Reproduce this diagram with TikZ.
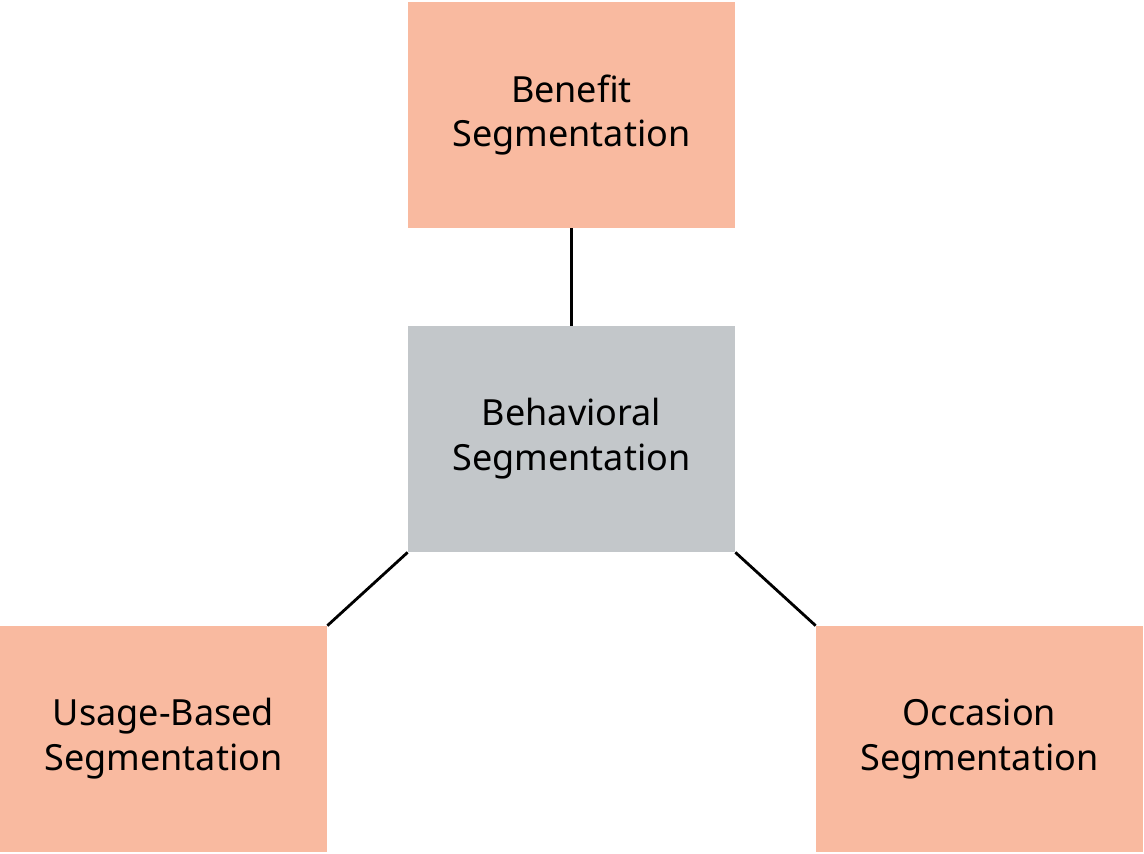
\documentclass[tikz,border=0pt]{standalone}
\usepackage{fontspec}
\setmainfont{Noto Sans}
\definecolor{salmon}{HTML}{F9BAA0}
\definecolor{grayb}{HTML}{C3C7CA}
\begin{document}
\begin{tikzpicture}[x=0.02cm,y=-0.02cm,
 box/.style={draw=none,minimum width=327*0.02cm,minimum height=226*0.02cm,inner sep=0pt,align=center,font=\fontsize{20.5}{25.5}\selectfont},
 line/.style={line width=1.6pt,black}]
\useasboundingbox (0,0) rectangle (1144,853);
\node[box,fill=salmon] (top) at (571.5,115) {Benefit\\Segmentation};
\node[box,fill=grayb] (mid) at (571.5,439) {\textbf{Behavioral}\\\textbf{Segmentation}};
\node[box,fill=salmon] (left) at (163.5,739) {Usage-Based\\Segmentation};
\node[box,fill=salmon] (right) at (979.5,739) {Occasion\\Segmentation};
\draw[line] (top.south) -- (mid.north);
\draw[line] (mid.south west) -- (left.north east);
\draw[line] (mid.south east) -- (right.north west);
\end{tikzpicture}
\end{document}
